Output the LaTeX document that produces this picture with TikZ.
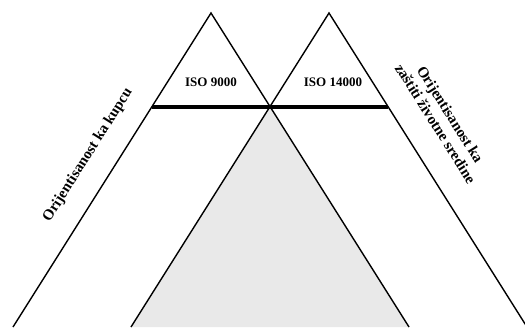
\documentclass[tikz,border=0pt]{standalone}
\usepackage{fontspec}
\setmainfont{Liberation Serif}
\begin{document}
\begin{tikzpicture}[x=1pt,y=1pt,
    side/.style={line width=1.4pt},
    bar/.style={line width=3.4pt},
    iso/.style={font=\bfseries\fontsize{13}{15}\selectfont},
    orient/.style={font=\bfseries\fontsize{15}{17.5}\selectfont,align=center,inner sep=1pt}]
  \useasboundingbox (0,0) rectangle (525,-327);
  \clip (0,0) rectangle (525,-327);
  % two triangles
  \coordinate (L) at (211,-13);
  \coordinate (LB) at (13,-327);
  \coordinate (LR) at (409,-327);
  \coordinate (R) at (329,-13);
  \coordinate (RB) at (131,-327);
  \coordinate (RR) at (527,-327);
  \coordinate (X) at (270,-107);
  \coordinate (Lbar) at (152,-107);
  \coordinate (Rbar) at (388,-107);
  % overlap
  \fill[gray!17] (X) -- (LR) -- (RB) -- cycle;
  \draw[side] (LB) -- (L) -- (LR);
  \draw[side] (RB) -- (R) -- (RR);
  \draw[bar] (Lbar) -- (X);
  \draw[bar] (X) -- (Rbar);
  % labels
  \node[iso] (iso9) at (211,-82) {ISO 9000};
  \node[iso] (iso14) at (333,-82) {ISO 14000};
  \node[orient,rotate=57.8] (kupac) at (88,-155) {Orijentisanost ka kupcu};
  \node[orient,rotate=-57.8] (sredina) at (443,-119) {Orijentisanost ka\\zaštiti životne sredine};
\end{tikzpicture}
\end{document}
